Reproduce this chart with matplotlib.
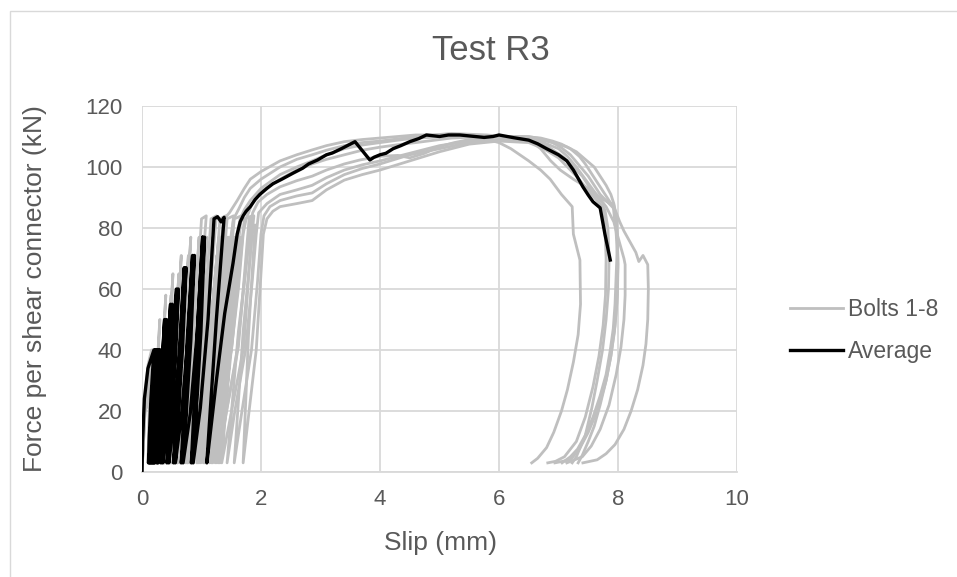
import matplotlib
matplotlib.use("Agg")
import matplotlib.pyplot as plt
from matplotlib.patches import Rectangle

plt.rcParams['font.family'] = ['Liberation Sans', 'DejaVu Sans']

# ---- data: (slip mm, force kN) ----
average = [(0.00, 0), (0.01, 10), (0.04, 24), (0.10, 34), (0.20, 40),
           (0.15, 24), (0.12, 10), (0.11, 3), (0.15, 10), (0.19, 24), (0.215, 40),
           (0.165, 24), (0.135, 10), (0.125, 3), (0.165, 10), (0.205, 24), (0.23, 40),
           (0.18, 24), (0.15, 10), (0.14, 3), (0.18, 10), (0.22, 24), (0.245, 40),
           (0.195, 24), (0.165, 10), (0.155, 3), (0.195, 10), (0.235, 24), (0.26, 40),
           (0.21, 24), (0.18, 10), (0.17, 3), (0.21, 10), (0.25, 24), (0.275, 40),
           (0.225, 24), (0.195, 10), (0.185, 3), (0.225, 10), (0.265, 24), (0.29, 40),
           (0.24, 24), (0.21, 10), (0.20, 3), (0.24, 10), (0.28, 24), (0.305, 40),
           (0.255, 24), (0.225, 10), (0.215, 3), (0.27, 12), (0.33, 30), (0.38, 50),
           (0.32, 30), (0.28, 12.5), (0.25, 3), (0.31, 12.5), (0.365, 30), (0.41, 50),
           (0.35, 30), (0.30, 12.5), (0.27, 3), (0.345, 14), (0.42, 33), (0.48, 55),
           (0.41, 33), (0.35, 14), (0.32, 3), (0.39, 14), (0.46, 33), (0.51, 55),
           (0.44, 33), (0.38, 14), (0.35, 3), (0.43, 15), (0.52, 36), (0.58, 60),
           (0.51, 36), (0.45, 15), (0.42, 3), (0.49, 15), (0.56, 36), (0.61, 60),
           (0.54, 36), (0.48, 15), (0.45, 3), (0.54, 17), (0.64, 40), (0.71, 67),
           (0.63, 40), (0.57, 17), (0.53, 3), (0.60, 17), (0.68, 40), (0.74, 67),
           (0.66, 40), (0.60, 17), (0.56, 3), (0.66, 18), (0.77, 43), (0.85, 71),
           (0.76, 43), (0.70, 18), (0.66, 3), (0.74, 18), (0.82, 43), (0.88, 71),
           (0.79, 43), (0.73, 18), (0.69, 3), (0.81, 19), (0.93, 46), (1.02, 77),
           (0.93, 46), (0.87, 19), (0.83, 3), (0.91, 19), (0.99, 46), (1.05, 77),
           (0.96, 46), (0.90, 19), (0.86, 3), (0.98, 21), (1.11, 50), (1.21, 83),
           (1.27, 83.7), (1.33, 82), (1.38, 83.5), (1.25, 50), (1.15, 21), (1.09, 3),
           (1.25, 30), (1.39, 52), (1.53, 68.5), (1.60, 78), (1.65, 82),
           (1.70, 84), (1.75, 85.5), (1.82, 87), (1.90, 89.3), (1.98, 91), (2.10, 93),
           (2.20, 94.5), (2.35, 96), (2.54, 98), (2.70, 99.6), (2.80, 101), (2.95, 102.3),
           (3.10, 104), (3.20, 104.6), (3.35, 106), (3.47, 107.2), (3.58, 108.3),
           (3.83, 102.3), (3.90, 103.2), (4.00, 104), (4.10, 104.5), (4.22, 106),
           (4.35, 107), (4.50, 108.3), (4.65, 109.3), (4.78, 110.5), (5.00, 110),
           (5.15, 110.5), (5.34, 110.5), (5.60, 110), (5.75, 109.7), (5.90, 110),
           (6.00, 110.5), (6.25, 109.6), (6.50, 108.8), (6.65, 107.6), (6.80, 106),
           (6.90, 105), (7.00, 104), (7.14, 102), (7.25, 99), (7.33, 96.3), (7.41, 93.5),
           (7.50, 90.8), (7.58, 88.6), (7.70, 86.6), (7.78, 78), (7.87, 69.5)]

bolt1 = [(0, 0), (0.03, 20), (0.10, 35), (0.16, 40), (0.12, 20), (0.10, 3), (0.14, 20),
         (0.18, 40), (0.14, 20), (0.12, 3), (0.16, 20), (0.20, 40), (0.16, 20), (0.14, 3),
         (0.24, 25), (0.30, 50), (0.23, 27), (0.18, 3), (0.32, 29),
         (0.40, 58), (0.33, 32), (0.27, 3), (0.43, 32), (0.52, 65), (0.44, 36), (0.38, 3),
         (0.56, 35), (0.66, 71), (0.57, 39), (0.50, 3), (0.71, 38), (0.82, 77), (0.72, 42),
         (0.64, 3), (0.87, 41), (1.00, 83), (1.08, 84), (0.94, 46), (0.82, 3),
         (0.96, 20), (1.15, 40), (1.26, 60), (1.33, 76), (1.38, 83), (1.47, 85), (1.60, 89),
         (1.72, 93), (1.82, 96), (2.00, 98.5), (2.32, 102), (2.60, 104), (2.86, 105.6),
         (3.10, 107), (3.40, 108.3), (3.70, 109), (4.00, 109.5), (4.30, 110), (4.60, 110.5),
         (5.20, 110.5), (5.60, 110), (5.80, 109), (6.00, 108), (6.20, 106), (6.50, 102),
         (6.70, 99), (6.86, 96), (7.05, 91), (7.23, 87), (7.25, 78), (7.36, 69.5),
         (7.37, 55), (7.33, 45), (7.25, 36), (7.15, 27), (7.05, 20), (6.92, 13), (6.80, 8),
         (6.65, 4.5), (6.55, 3)]

bolt2 = [(0, 0), (0.03, 20), (0.15, 35), (0.22, 40), (0.17, 20), (0.15, 3), (0.20, 20),
         (0.24, 40), (0.19, 20), (0.17, 3), (0.22, 20), (0.26, 40), (0.21, 20), (0.20, 3),
         (0.31, 25), (0.38, 50), (0.30, 27), (0.24, 3), (0.39, 29),
         (0.49, 58), (0.41, 32), (0.34, 3), (0.52, 32), (0.62, 65), (0.53, 36), (0.47, 3),
         (0.66, 35), (0.78, 71), (0.68, 39), (0.60, 3), (0.83, 38), (0.96, 77), (0.85, 42),
         (0.76, 3), (1.01, 41), (1.16, 83), (1.25, 84), (1.09, 46), (0.96, 3),
         (1.10, 20), (1.30, 40), (1.42, 60), (1.50, 78), (1.54, 83), (1.62, 86), (1.72, 90),
         (1.82, 93), (2.00, 96), (2.32, 100), (2.60, 102.5), (2.86, 104), (3.10, 105.5),
         (3.40, 107), (3.70, 108), (4.00, 108.5), (4.30, 109.2), (4.60, 110), (5.20, 111),
         (5.80, 110.5), (6.30, 109.5), (6.60, 108.5), (6.80, 107), (6.95, 105), (7.10, 103),
         (7.25, 100), (7.40, 97), (7.60, 91), (7.75, 88), (7.78, 80), (7.80, 70),
         (7.79, 58), (7.75, 48), (7.68, 38), (7.58, 28), (7.45, 18), (7.30, 10), (7.10, 5),
         (6.95, 3.5), (6.82, 3)]

bolt3 = [(0, 0), (0.04, 20), (0.19, 35), (0.26, 40), (0.21, 20), (0.19, 3), (0.24, 20),
         (0.29, 40), (0.23, 20), (0.21, 3), (0.26, 20), (0.31, 40), (0.26, 20), (0.24, 3),
         (0.36, 25), (0.44, 50), (0.35, 27), (0.29, 3), (0.45, 29),
         (0.56, 58), (0.47, 32), (0.40, 3), (0.60, 32), (0.71, 65), (0.61, 36), (0.54, 3),
         (0.76, 35), (0.89, 71), (0.77, 39), (0.69, 3), (0.94, 38), (1.09, 77), (0.96, 42),
         (0.86, 3), (1.15, 41), (1.31, 83), (1.41, 84), (1.24, 46), (1.09, 3),
         (1.22, 20), (1.40, 40), (1.52, 60), (1.60, 78), (1.65, 83), (1.72, 86), (1.82, 89),
         (2.00, 93), (2.32, 97.5), (2.60, 100), (2.86, 102), (3.10, 104), (3.40, 106),
         (3.70, 107.2), (4.00, 108), (4.30, 108.8), (4.60, 109.5), (5.20, 110), (5.80, 110),
         (6.40, 110), (6.70, 109.5), (6.90, 108.5), (7.05, 107.5), (7.20, 106), (7.35, 103.5),
         (7.45, 101), (7.55, 98), (7.65, 95), (7.75, 92), (7.85, 89), (7.92, 87), (7.97, 78),
         (8.00, 68), (7.99, 58), (7.95, 48), (7.88, 38), (7.80, 30), (7.67, 21), (7.50, 13),
         (7.35, 7.5), (7.20, 4), (6.94, 3)]

bolt4 = [(0, 0), (0.04, 20), (0.25, 35), (0.33, 40), (0.27, 20), (0.25, 3), (0.31, 20),
         (0.36, 40), (0.30, 20), (0.27, 3), (0.33, 20), (0.39, 40), (0.33, 20), (0.30, 3),
         (0.45, 25), (0.54, 50), (0.43, 27), (0.36, 3), (0.56, 29),
         (0.68, 58), (0.58, 32), (0.49, 3), (0.73, 32), (0.85, 65), (0.74, 36), (0.65, 3),
         (0.92, 35), (1.06, 71), (0.93, 39), (0.83, 3), (1.13, 38), (1.29, 77), (1.14, 42),
         (1.03, 3), (1.18, 38), (1.32, 77), (1.17, 42), (1.06, 3),
         (1.36, 41), (1.55, 83), (1.67, 84), (1.46, 46), (1.29, 3),
         (1.42, 20), (1.60, 40), (1.72, 62), (1.80, 78), (1.86, 85), (1.95, 88.5), (2.10, 91),
         (2.32, 93.5), (2.60, 95.5), (2.86, 97), (3.10, 99), (3.40, 101), (3.66, 102.3),
         (4.00, 103.5), (4.30, 103.8), (4.50, 103), (4.75, 104.5), (5.00, 106.7), (5.25, 108),
         (5.50, 109), (6.00, 110), (6.50, 110), (6.70, 109.3), (6.90, 108), (7.05, 106.3),
         (7.20, 104), (7.35, 100.5), (7.50, 97), (7.60, 94), (7.70, 91), (7.85, 88),
         (7.95, 86), (8.03, 82), (8.10, 79), (8.20, 75.5), (8.30, 72), (8.35, 69), (8.42, 71),
         (8.50, 68), (8.51, 60), (8.50, 50), (8.47, 42), (8.42, 35), (8.33, 27), (8.22, 20),
         (8.10, 14), (7.95, 9), (7.80, 6), (7.65, 4), (7.41, 3)]

bolt5 = [(0, 0), (0.05, 20), (0.28, 35), (0.38, 40), (0.31, 20), (0.28, 3), (0.35, 20),
         (0.41, 40), (0.34, 20), (0.31, 3), (0.38, 20), (0.44, 40), (0.37, 20), (0.34, 3),
         (0.50, 25), (0.60, 50), (0.49, 27), (0.41, 3), (0.63, 29),
         (0.76, 58), (0.65, 32), (0.55, 3), (0.81, 32), (0.95, 65), (0.82, 36), (0.73, 3),
         (1.02, 35), (1.18, 71), (1.03, 39), (0.92, 3), (1.25, 38), (1.43, 77), (1.27, 42),
         (1.14, 3), (1.30, 38), (1.46, 77), (1.30, 42), (1.17, 3),
         (1.51, 41), (1.72, 83), (1.85, 84), (1.62, 46), (1.43, 3),
         (1.56, 20), (1.74, 40), (1.85, 62), (1.92, 78), (1.96, 85), (2.10, 88), (2.32, 91),
         (2.60, 92.5), (2.86, 94), (3.10, 96.5), (3.40, 99), (3.70, 100.7), (4.00, 102),
         (4.50, 104.5), (5.00, 107), (5.50, 108.5), (6.00, 109), (6.50, 109), (6.75, 108),
         (7.00, 106), (7.15, 103.5), (7.30, 100), (7.45, 96), (7.60, 92), (7.80, 87),
         (7.93, 82), (8.00, 77), (8.10, 70), (8.12, 68), (8.12, 58), (8.10, 50), (8.05, 41),
         (7.97, 32), (7.85, 22), (7.70, 14), (7.55, 8.5), (7.40, 5), (7.14, 3)]

bolt6 = [(0, 0), (0.05, 20), (0.31, 35), (0.41, 40), (0.34, 20), (0.31, 3), (0.38, 20),
         (0.45, 40), (0.38, 20), (0.34, 3), (0.42, 20), (0.48, 40), (0.41, 20), (0.38, 3),
         (0.55, 25), (0.65, 50), (0.53, 27), (0.45, 3), (0.68, 29),
         (0.82, 58), (0.70, 32), (0.60, 3), (0.87, 32), (1.02, 65), (0.89, 36), (0.79, 3),
         (1.10, 35), (1.26, 71), (1.11, 39), (0.99, 3), (1.34, 38), (1.53, 77), (1.36, 42),
         (1.23, 3), (1.40, 38), (1.56, 77), (1.39, 42), (1.26, 3),
         (1.62, 41), (1.80, 83), (1.88, 84), (1.70, 46), (1.55, 3),
         (1.68, 20), (1.84, 40), (1.94, 62), (2.00, 78), (2.05, 84), (2.15, 87), (2.32, 89),
         (2.60, 90.5), (2.86, 91.5), (3.10, 94.5), (3.40, 97.5), (3.70, 99.5), (4.00, 101),
         (4.50, 104), (5.00, 106), (5.50, 108), (6.00, 109), (6.60, 109), (6.80, 108.5),
         (7.00, 107.5), (7.15, 106.5), (7.30, 105), (7.45, 102.5), (7.60, 100), (7.70, 97),
         (7.80, 94), (7.88, 91), (7.93, 88), (7.98, 83), (7.99, 76), (7.98, 70), (7.95, 55),
         (7.92, 47), (7.87, 40), (7.80, 32), (7.70, 25), (7.58, 18), (7.45, 12), (7.32, 7.5),
         (7.20, 5), (7.06, 3)]

bolt7 = [(0, 0), (0.05, 20), (0.34, 35), (0.45, 40), (0.37, 20), (0.34, 3), (0.42, 20),
         (0.48, 40), (0.41, 20), (0.38, 3), (0.46, 20), (0.52, 40), (0.45, 20), (0.41, 3),
         (0.59, 25), (0.70, 50), (0.57, 27), (0.48, 3), (0.74, 29),
         (0.88, 58), (0.75, 32), (0.65, 3), (0.95, 32), (1.10, 65), (0.95, 36), (0.84, 3),
         (1.18, 35), (1.35, 71), (1.19, 39), (1.06, 3), (1.43, 38), (1.64, 77), (1.46, 42),
         (1.31, 3), (1.49, 38), (1.67, 77), (1.49, 42), (1.34, 3),
         (1.71, 41), (1.85, 80), (1.90, 81), (1.79, 45), (1.70, 3),
         (1.80, 20), (1.92, 40), (1.99, 62), (2.04, 78), (2.10, 83), (2.20, 85.5), (2.32, 87),
         (2.60, 88), (2.86, 89), (3.10, 92.5), (3.40, 95.7), (3.70, 97.5), (4.00, 99),
         (4.50, 102), (5.00, 105), (5.50, 107.5), (6.00, 108.5), (6.50, 108), (6.75, 106),
         (7.00, 103), (7.15, 100), (7.30, 97), (7.45, 93.5), (7.60, 90), (7.78, 86),
         (7.83, 80), (7.85, 70), (7.84, 60), (7.80, 50), (7.74, 40), (7.65, 30), (7.56, 21),
         (7.45, 12), (7.30, 5), (7.23, 3)]

bolt8 = [(0, 0), (0.04, 20), (0.22, 35), (0.30, 40), (0.24, 20), (0.22, 3), (0.28, 20),
         (0.32, 40), (0.26, 20), (0.24, 3), (0.30, 20), (0.35, 40), (0.29, 20), (0.27, 3),
         (0.40, 25), (0.49, 50), (0.39, 27), (0.32, 3), (0.51, 29),
         (0.62, 58), (0.53, 32), (0.44, 3), (0.66, 32), (0.78, 65), (0.67, 36), (0.59, 3),
         (0.84, 35), (0.97, 71), (0.85, 39), (0.76, 3), (1.04, 38), (1.19, 77), (1.05, 42),
         (0.94, 3), (1.26, 41), (1.43, 83), (1.54, 84), (1.35, 46), (1.19, 3),
         (1.32, 20), (1.50, 40), (1.62, 60), (1.70, 78), (1.75, 83), (1.85, 88), (2.00, 92),
         (2.32, 96), (2.60, 99), (2.86, 101), (3.10, 102.5), (3.40, 104), (3.70, 105.5),
         (4.00, 106.5), (4.30, 107.3), (4.60, 108), (5.20, 109.5), (5.80, 110), (6.30, 110),
         (6.50, 109), (6.70, 106), (6.87, 102), (7.03, 99), (7.25, 96), (7.50, 93),
         (7.70, 90), (7.87, 88), (7.93, 87.5), (7.98, 80), (8.00, 70), (7.99, 62),
         (7.98, 55), (7.94, 46), (7.88, 38), (7.80, 30), (7.70, 22), (7.60, 15), (7.50, 10),
         (7.40, 5.5), (7.33, 3)]

bolts = [bolt1, bolt2, bolt3, bolt4, bolt5, bolt6, bolt7, bolt8]

x_ticks = [0, 2, 4, 6, 8, 10]
y_ticks = [0, 20, 40, 60, 80, 100, 120]

text_color = '#595959'
grid_color = '#d9d9d9'

fig = plt.figure(figsize=(9.57, 5.77), dpi=100)
ax = fig.add_axes([142 / 957, 1 - 472 / 577, 595 / 957, 366 / 577])

for i, pts in enumerate(bolts):
    s, f = zip(*pts)
    ax.plot(s, f, color='#bfbfbf', lw=2.0, solid_joinstyle='round',
            label='Bolts 1-8' if i == 0 else None, zorder=2)
s, f = zip(*average)
ax.plot(s, f, color='black', lw=2.4, solid_joinstyle='round', label='Average', zorder=3)

ax.set_xlim(0, 10)
ax.set_ylim(0, 120)
ax.set_xticks(x_ticks)
ax.set_yticks(y_ticks)
ax.grid(True, color=grid_color, lw=1.3)
ax.set_axisbelow(True)
for side in ['top', 'right', 'left']:
    ax.spines[side].set_visible(False)
ax.spines['bottom'].set_color(grid_color)
ax.spines['bottom'].set_linewidth(1.3)
ax.tick_params(length=0, labelsize=16, labelcolor=text_color)
ax.tick_params(axis='y', pad=14)
ax.tick_params(axis='x', pad=12)

fig.text(440 / 957, 1 - 543 / 577, 'Slip (mm)', ha='center', va='center',
         fontsize=19, color=text_color)
fig.text(35 / 957, 1 - 289 / 577, 'Force per shear connector (kN)', ha='center',
         va='center', rotation=90, fontsize=19, color=text_color)
fig.text(491 / 957, 1 - 50 / 577, 'Test R3', ha='center', va='center',
         fontsize=25, color=text_color)

leg = ax.legend(loc='center left', bbox_to_anchor=(790 / 957, 1 - 330.5 / 577),
                bbox_transform=fig.transFigure, frameon=False, fontsize=16.5,
                handlelength=2.3, handletextpad=0.25, labelspacing=0.85,
                borderpad=0, borderaxespad=0)
for t in leg.get_texts():
    t.set_color(text_color)

# chart-area border
fig.patches.append(Rectangle((10 / 957, -0.1), 1.2, 1 - 11 / 577 + 0.1,
                             transform=fig.transFigure, fill=False,
                             edgecolor=grid_color, lw=1.0))

fig.savefig('out.png', dpi=100)
